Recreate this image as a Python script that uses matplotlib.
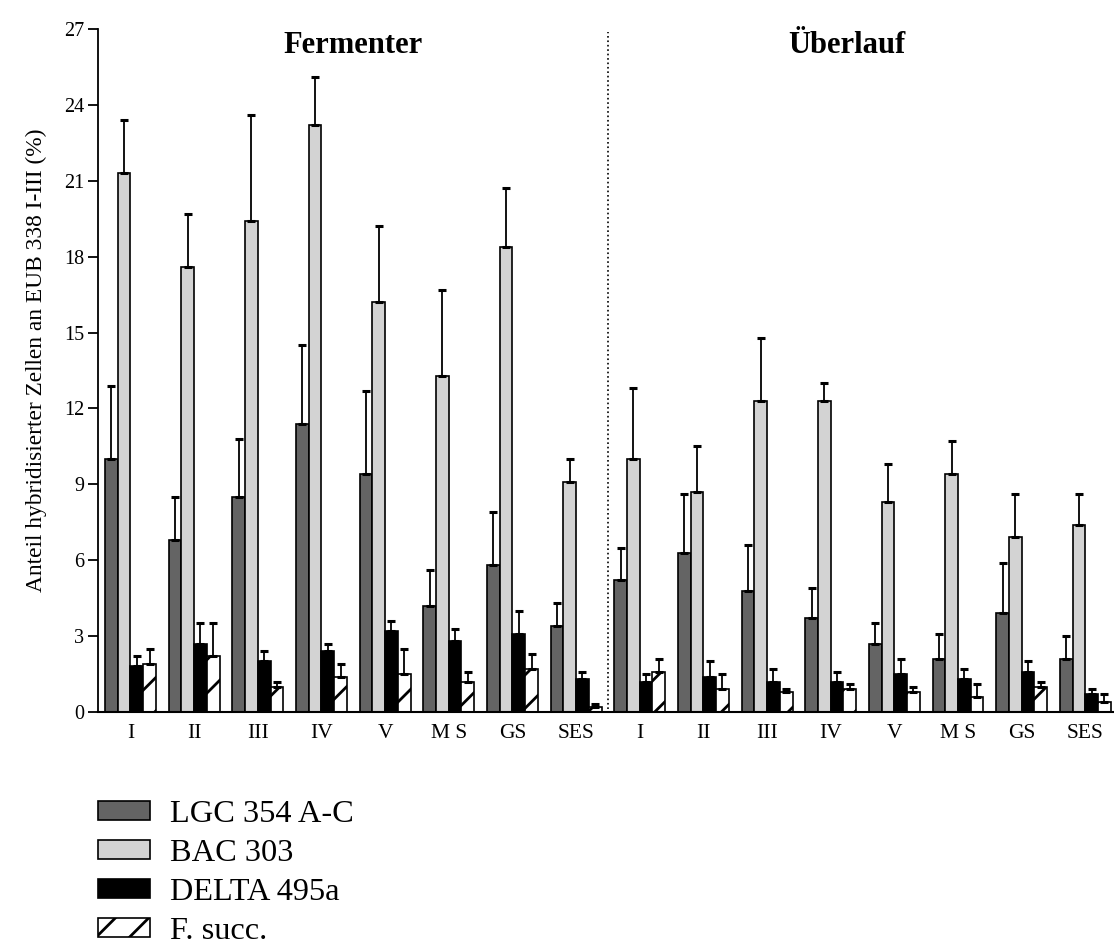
import matplotlib
matplotlib.use("Agg")
import matplotlib.pyplot as plt
import numpy as np

plt.rcParams['font.family'] = ['Liberation Serif', 'DejaVu Serif']
plt.rcParams['hatch.linewidth'] = 2.0

groups = ['I', 'II', 'III', 'IV', 'V', 'M S', 'GS', 'SES'] * 2
sections = ['Fermenter', 'Überlauf']
probes = ['LGC 354 A-C', 'BAC 303', 'DELTA 495a', 'F. succ.']

# mean share per probe, 8 samples Fermenter then 8 samples Überlauf
lgc = [10.0, 6.8, 8.5, 11.4, 9.4, 4.2, 5.8, 3.4, 5.2, 6.3, 4.8, 3.7, 2.7, 2.1, 3.9, 2.1]
bac = [21.3, 17.6, 19.4, 23.2, 16.2, 13.3, 18.4, 9.1, 10.0, 8.7, 12.3, 12.3, 8.3, 9.4, 6.9, 7.4]
delta = [1.8, 2.7, 2.0, 2.4, 3.2, 2.8, 3.1, 1.3, 1.2, 1.4, 1.2, 1.2, 1.5, 1.3, 1.6, 0.7]
fsucc = [1.9, 2.2, 1.0, 1.4, 1.5, 1.2, 1.7, 0.2, 1.6, 0.9, 0.8, 0.9, 0.8, 0.6, 1.0, 0.4]

# standard deviations (upper error bars only)
lgc_sd = [2.9, 1.7, 2.3, 3.1, 3.3, 1.4, 2.1, 0.9, 1.3, 2.3, 1.8, 1.2, 0.8, 1.0, 2.0, 0.9]
bac_sd = [2.1, 2.1, 4.2, 1.9, 3.0, 3.4, 2.3, 0.9, 2.8, 1.8, 2.5, 0.7, 1.5, 1.3, 1.7, 1.2]
delta_sd = [0.4, 0.8, 0.4, 0.3, 0.4, 0.5, 0.9, 0.3, 0.3, 0.6, 0.5, 0.4, 0.6, 0.4, 0.4, 0.2]
fsucc_sd = [0.6, 1.3, 0.2, 0.5, 1.0, 0.4, 0.6, 0.1, 0.5, 0.6, 0.1, 0.2, 0.2, 0.5, 0.2, 0.3]

series = [(lgc, lgc_sd), (bac, bac_sd), (delta, delta_sd), (fsucc, fsucc_sd)]
colors = ['#646464', '#d3d3d3', 'black', 'white']
hatches = [None, None, None, '/']

fig = plt.figure(figsize=(11.14, 9.44), dpi=100)
ax = fig.add_axes([98 / 1114, 1 - 712 / 944, (1114 - 98) / 1114, (712 - 29) / 944])

x = np.arange(len(groups))
w = 0.2
bars = []
for i, ((vals, sd), c, h) in enumerate(zip(series, colors, hatches)):
    b = ax.bar(x + (i - 1.5) * w, vals, w, color=c, edgecolor='black', linewidth=1.2,
               hatch=h, yerr=[np.zeros(len(sd)), sd],
               error_kw=dict(ecolor='black', elinewidth=1.3, capsize=2.8, capthick=2.2))
    bars.append(b)

ax.set_xlim(-0.51, 15.45)
ax.set_ylim(0, 27)
ax.set_yticks(range(0, 28, 3))
ax.set_xticks(x)
ax.set_xticklabels(groups)
ax.tick_params(axis='y', direction='out', length=7, width=1.3, labelsize=14.5, pad=3)
ax.tick_params(axis='x', length=0, labelsize=15.5, pad=9)
for side in ['top', 'right']:
    ax.spines[side].set_visible(False)
ax.spines['left'].set_linewidth(1.3)
ax.spines['bottom'].set_linewidth(1.5)

ax.set_ylabel('Anteil hybridisierter Zellen an EUB 338 I-III (%)', fontsize=16.8)
ax.yaxis.set_label_coords(-0.05, 0.515)

# section divider and headings
ax.axvline(7.5, ymin=0.005, ymax=0.995, color='black', ls=':', lw=1.2)
ax.text(3.5, 26.05, sections[0], ha='center', va='baseline', fontsize=22, fontweight='bold')
ax.text(11.25, 26.05, sections[1], ha='center', va='baseline', fontsize=22, fontweight='bold')

fig.legend(bars, probes, loc='upper left', bbox_to_anchor=(0.088, 1 - 800 / 944),
           frameon=False, fontsize=23.3, handlelength=1.6, handleheight=0.55,
           handletextpad=0.62, labelspacing=0.31, borderpad=0, borderaxespad=0)

fig.savefig('out.png', dpi=100)
